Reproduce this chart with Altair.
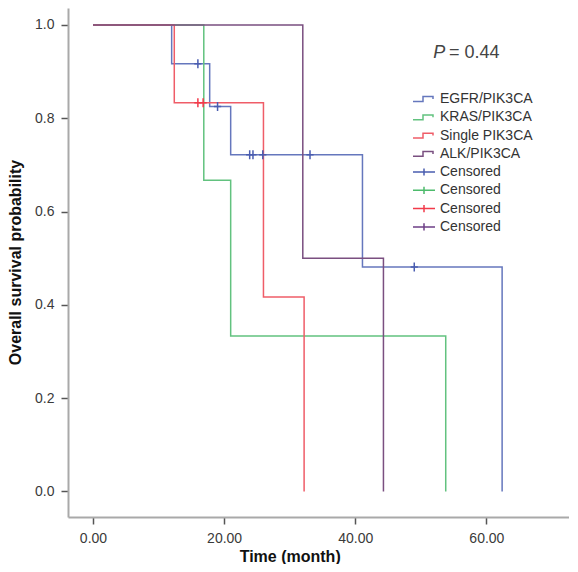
import altair as alt
import pandas as pd

# ---------------- data ----------------
groups = ["EGFR/PIK3CA", "KRAS/PIK3CA", "Single PIK3CA", "ALK/PIK3CA"]
line_colors = ["#6577bd", "#62c27f", "#ef5d68", "#7a4f80"]

egfr_t = [0, 12.0, 17.8, 21.0, 41.1, 62.4]
egfr_s = [1.0, 0.917, 0.825, 0.722, 0.481, 0.0]
kras_t = [0, 16.9, 21.0, 53.8]
kras_s = [1.0, 0.667, 0.333, 0.0]
single_t = [0, 12.4, 26.0, 32.2]
single_s = [1.0, 0.833, 0.417, 0.0]
alk_t = [0, 32.0, 44.3]
alk_s = [1.0, 0.5, 0.0]

censor_keys = ["EGFR censored", "KRAS censored", "Single censored", "ALK censored"]
censor_colors = ["#4a5db0", "#4dbb6c", "#f23a4a", "#6e3f86"]
egfr_cens_t = [16.0, 19.0, 23.9, 24.4, 25.9, 33.1, 49.0]
egfr_cens_s = [0.917, 0.825, 0.722, 0.722, 0.722, 0.722, 0.481]
single_cens_t = [16.0, 16.8]
single_cens_s = [0.833, 0.833]

x_ticks = [0, 20, 40, 60]
y_ticks = [0.0, 0.2, 0.4, 0.6, 0.8, 1.0]
p_label_italic = "P"
p_label_rest = "= 0.44"
p_pos_x = [51.9, 54.3]
p_pos_y = 0.94

# ---------------- tables ----------------
rows = []
for g, ts, ss in zip(groups, [egfr_t, kras_t, single_t, alk_t], [egfr_s, kras_s, single_s, alk_s]):
    for i, (t, s) in enumerate(zip(ts, ss)):
        rows.append({"group": g, "time": t, "surv": s, "i": i})
lines_df = pd.DataFrame(rows)

crows = []
for k, ts, ss in [(censor_keys[0], egfr_cens_t, egfr_cens_s), (censor_keys[2], single_cens_t, single_cens_s)]:
    for t, s in zip(ts, ss):
        crows.append({"ckey": k, "time": t, "surv": s})
cens_df = pd.DataFrame(crows)

txt_df = pd.DataFrame({"txt": [p_label_italic, p_label_rest], "x": p_pos_x, "y": [p_pos_y, p_pos_y]})

FONT = "Liberation Sans, Arial, Helvetica, sans-serif"

xscale = alt.Scale(domain=[-3.81, 72.6], nice=False, zero=False)
yscale = alt.Scale(domain=[-0.0549, 1.0364], nice=False, zero=False)

xaxis = alt.Axis(
    values=x_ticks, format=".2f", grid=False, title="Time (month)",
    domainColor="#a9a9a9", domainWidth=2, tickColor="#555", tickWidth=1.5, tickSize=7,
    labelFont=FONT, labelFontSize=14, labelColor="#3a3a3a", labelPadding=7,
    titleFont=FONT, titleFontSize=16, titleFontWeight="bold", titleColor="#111",
    titleX=221.7, titleY=44, titleBaseline="alphabetic", titleAnchor="start", titleAlign="center",
)
yaxis = alt.Axis(
    values=y_ticks, format=".1f", grid=False, title="Overall survival probability",
    domainColor="#a9a9a9", domainWidth=2, tickColor="#555", tickWidth=1.5, tickSize=7,
    labelFont=FONT, labelFontSize=14, labelColor="#3a3a3a", labelPadding=7,
    titleFont=FONT, titleFontSize=16, titleFontWeight="bold", titleColor="#111",
    titleX=-48, titleY=254, titleAngle=-90, titleAlign="center", titleBaseline="alphabetic",
)

step_path = "M-1.375,0.3H-0.125V-0.3H1.125V0"
cross_path = "M-1.375,0H1.375M0,-0.45V0.45"
plot_cross = "M-0.8,0H0.8M0,-1V1"

leg_common = dict(
    orient="none", title=None, symbolSize=256, symbolStrokeWidth=1.5,
    labelFont=FONT, labelFontSize=14, labelColor="#333", labelOffset=7, rowPadding=2.3,
    symbolFillColor="transparent",
)

lines = alt.Chart(lines_df).mark_line(interpolate="step-after", strokeWidth=1.5).encode(
    x=alt.X("time:Q", scale=xscale, axis=xaxis),
    y=alt.Y("surv:Q", scale=yscale, axis=yaxis),
    color=alt.Color("group:N", scale=alt.Scale(domain=groups, range=line_colors),
                    legend=alt.Legend(symbolType=step_path, legendX=347, legendY=82, **leg_common)),
    order="i:Q",
)

cens = alt.Chart(cens_df).mark_point(shape=plot_cross, size=81, strokeWidth=1.5, filled=False, opacity=1).encode(
    x=alt.X("time:Q", scale=xscale),
    y=alt.Y("surv:Q", scale=yscale),
    stroke=alt.Stroke("ckey:N", scale=alt.Scale(domain=censor_keys, range=censor_colors),
                      legend=alt.Legend(symbolType=cross_path, legendX=347, legendY=155,
                                        labelExpr="'Censored'", **leg_common)),
)

p_it = alt.Chart(txt_df.iloc[[0]]).mark_text(
    font=FONT, fontSize=18, fontStyle="italic", color="#444", align="left", baseline="middle"
).encode(x=alt.X("x:Q", scale=xscale), y=alt.Y("y:Q", scale=yscale), text="txt:N")

p_rest = alt.Chart(txt_df.iloc[[1]]).mark_text(
    font=FONT, fontSize=18, color="#444", align="left", baseline="middle"
).encode(x=alt.X("x:Q", scale=xscale), y=alt.Y("y:Q", scale=yscale), text="txt:N")

chart = alt.layer(lines, cens, p_it, p_rest).properties(
    width=501, height=509,
    autosize=alt.AutoSizeParams(type="none"),
    padding={"left": 60, "top": 0, "right": 0, "bottom": 47},
    background="white",
).configure_view(stroke=None)

chart.save("out.html", embed_options={"renderer": "svg", "actions": False})
